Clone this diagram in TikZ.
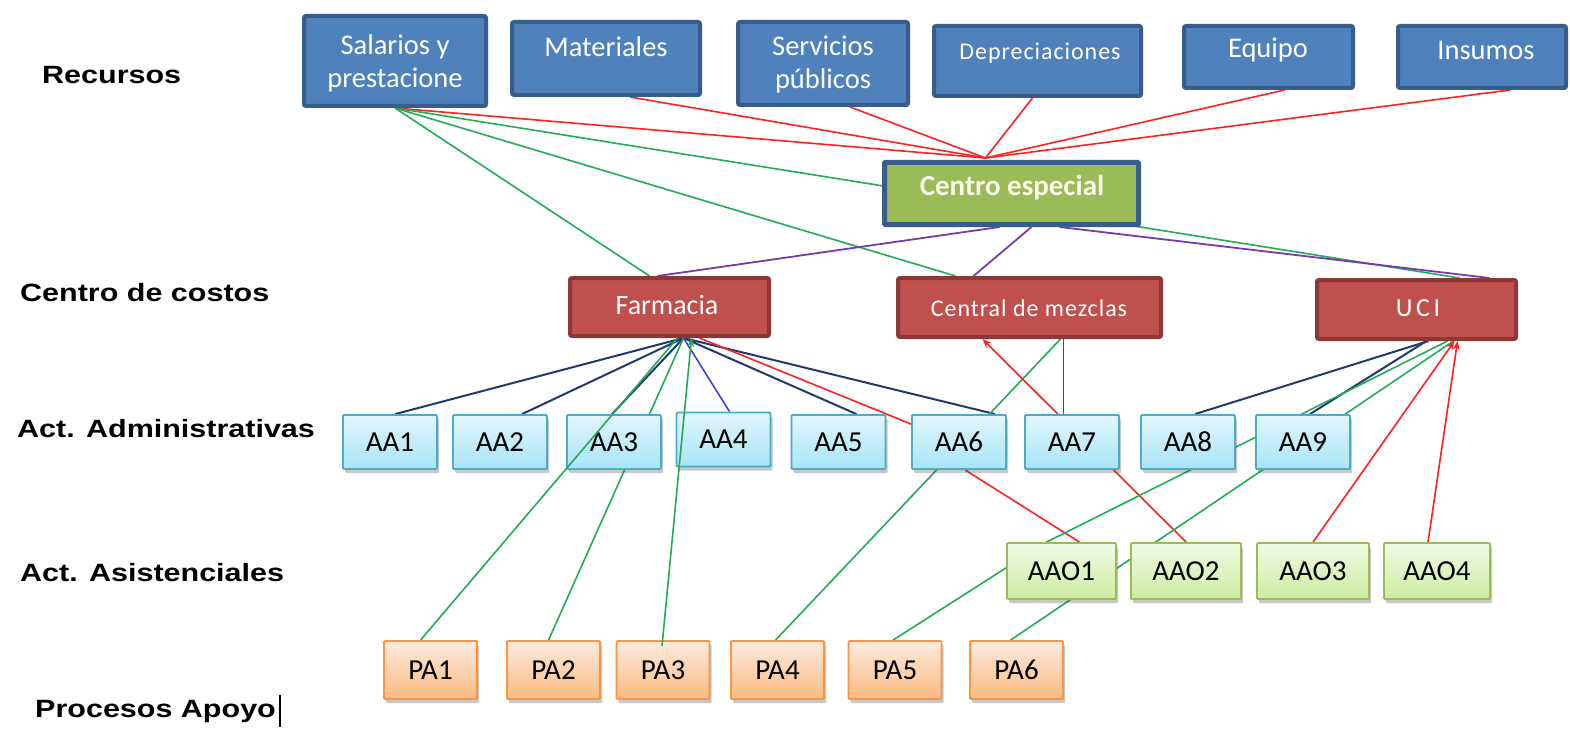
\documentclass[tikz,border=0pt]{standalone}
\usepackage{fontspec}
\setmainfont{Carlito}
\newfontfamily\lblfont{Liberation Sans}[FakeStretch=1.22]
\newfontfamily\spfont{Carlito}[LetterSpace=4]
\newfontfamily\wspfont{Carlito}[LetterSpace=14]
\usetikzlibrary{arrows.meta,shadows,calc}
\pgfdeclarelayer{bgfill}
\pgfdeclarelayer{bg}
\pgfdeclarelayer{fg}
\pgfsetlayers{bgfill,bg,main,fg}
\definecolor{resfill}{HTML}{4F81BD}
\definecolor{resdraw}{HTML}{385D8A}
\definecolor{cefill}{HTML}{9BBB59}
\definecolor{cetext}{HTML}{FAFAE8}
\definecolor{costfill}{HTML}{C0504D}
\definecolor{costdraw}{HTML}{8C3836}
\definecolor{aatop}{HTML}{E2F6FC}
\definecolor{aabot}{HTML}{A8E4F8}
\definecolor{aadraw}{HTML}{4BACC6}
\definecolor{aaotop}{HTML}{F2FAE6}
\definecolor{aaobot}{HTML}{CDEBA0}
\definecolor{aaodraw}{HTML}{9BBB59}
\definecolor{patop}{HTML}{FDEBDD}
\definecolor{pabot}{HTML}{FAB982}
\definecolor{padraw}{HTML}{F79646}
\definecolor{lnred}{HTML}{FF2020}
\definecolor{lngreen}{HTML}{22AD55}
\definecolor{lnnavy}{HTML}{223A6C}
\definecolor{lnblue}{HTML}{3A3ADD}
\definecolor{lnpurple}{HTML}{7A3AAE}
\tikzset{
  resbox/.style={draw=resdraw, fill=resfill, line width=4pt, rounded corners=2pt, inner sep=0pt},
  restext/.style={text=white, font=\fontsize{28.5}{33}\selectfont, align=center, inner sep=0pt},
  cebox/.style={draw=resdraw, fill=cefill, line width=5pt, rounded corners=1pt, inner sep=0pt},
  costbox/.style={draw=costdraw, fill=costfill, line width=4pt, rounded corners=2pt, inner sep=0pt},
  costtext/.style={text=white, inner sep=0pt},
  smallbox/.style={line width=1.8pt, rounded corners=1pt, inner sep=0pt,
    font=\fontsize{29}{33}\selectfont,
    drop shadow={shadow xshift=2pt, shadow yshift=-4pt, opacity=0.3, fill=black!70}},
  aabox/.style={smallbox, draw=aadraw, top color=aatop, bottom color=aabot, minimum width=94pt, minimum height=54pt},
  aaobox/.style={smallbox, draw=aaodraw, top color=aaotop, bottom color=aaobot, minimum height=56pt},
  pabox/.style={smallbox, draw=padraw, top color=patop, bottom color=pabot, minimum width=93pt, minimum height=58pt},
  lbl/.style={anchor=west, inner sep=0pt, font=\lblfont\bfseries\fontsize{25}{30}\selectfont},
  lred/.style={draw=lnred, line width=1.6pt},
  lgreen/.style={draw=lngreen, line width=1.6pt},
  lnavy/.style={draw=lnnavy, line width=2pt},
  lblue/.style={draw=lnblue, line width=1.5pt},
  lpurp/.style={draw=lnpurple, line width=1.8pt},
  tip/.style={-{Stealth[length=9pt,width=7pt]}}
}
\begin{document}
\begin{tikzpicture}[x=1pt,y=-1pt]
\begin{pgfonlayer}{bgfill}
\fill[white] (0,0) rectangle (1570,730);
\end{pgfonlayer}
\useasboundingbox (0,0) rectangle (1570,730);

% left labels
\node[lbl] (lrec) at (42,75) {Recursos};
\node[lbl] (lcc) at (20,293) {Centro de costos};
\node[lbl] (lad) at (17,429) {Act. Administrativas};
\node[lbl] (las) at (20,573) {Act. Asistenciales};
\node[lbl] (lpa) at (35,711) {Procesos Apoyo};
\draw[line width=2pt] ([xshift=4pt,yshift=16pt]lpa.east) -- ([xshift=4pt,yshift=-16pt]lpa.east);

% resources
\node[resbox, minimum width=182pt, minimum height=90pt] (sal) at (395,61) {};
\node[restext] (tsal) at (395,63.5) {Salarios y\\prestacione};
\node[resbox, minimum width=188pt, minimum height=73pt] (mat) at (606,58.5) {};
\node[restext] (tmat) at (606,47) {Materiales};
\node[resbox, minimum width=170pt, minimum height=83pt] (ser) at (823,63.5) {};
\node[restext] (tser) at (823,64.5) {Servicios\\públicos};
\node[resbox, minimum width=207pt, minimum height=70pt] (dep) at (1037.5,61) {};
\node[restext, font=\spfont\fontsize{24}{28}\selectfont] (tdep) at (1040,53) {Depreciaciones};
\node[resbox, minimum width=169pt, minimum height=62pt] (equ) at (1268.5,57) {};
\node[restext] (tequ) at (1268,50) {Equipo};
\node[resbox, minimum width=168pt, minimum height=62pt] (ins) at (1482,57) {};
\node[restext] (tins) at (1486,50) {Insumos};

% centro especial
\node[cebox, minimum width=254pt, minimum height=62pt] (ce) at (1011.5,193.5) {};
\node[costtext, text=cetext, font=\bfseries\fontsize{29}{33}\selectfont] (tce) at (1012,188) {Centro especial};

% cost centres
\node[costbox, minimum width=199pt, minimum height=58pt] (far) at (669.5,307) {};
\node[costtext, font=\fontsize{28}{33}\selectfont] (tfar) at (667,305) {Farmacia};
\node[costbox, minimum width=263pt, minimum height=59pt] (cdm) at (1029.5,307.5) {};
\node[costtext, font=\spfont\fontsize{24}{28}\selectfont] (tcdm) at (1029,308) {Central de mezclas};
\node[costbox, minimum width=199pt, minimum height=59pt] (uci) at (1416.5,309.5) {};
\node[costtext, font=\wspfont\fontsize{26}{30}\selectfont] (tuci) at (1418,308) {UCI};

% AA
\node[aabox] (aa1) at (390,442) {AA1};
\node[aabox] (aa2) at (500,442) {AA2};
\node[aabox] (aa3) at (614,442) {AA3};
\node[aabox] (aa4) at (723.5,439.5) {AA4};
\node[aabox] (aa5) at (838.5,442) {AA5};
\node[aabox] (aa6) at (959,442) {AA6};
\node[aabox] (aa7) at (1072,442) {AA7};
\node[aabox] (aa8) at (1188,442) {AA8};
\node[aabox] (aa9) at (1303,442) {AA9};

% AAO
\node[aaobox, minimum width=109pt] (aao1) at (1061.5,571) {AAO1};
\node[aaobox, minimum width=110pt] (aao2) at (1186,571) {AAO2};
\node[aaobox, minimum width=112pt] (aao3) at (1313,571) {AAO3};
\node[aaobox, minimum width=106pt] (aao4) at (1437,571) {AAO4};

% PA
\node[pabox] (pa1) at (430.5,670) {PA1};
\node[pabox] (pa2) at (553.5,670) {PA2};
\node[pabox] (pa3) at (663,670) {PA3};
\node[pabox] (pa4) at (777.5,670) {PA4};
\node[pabox] (pa5) at (895,670) {PA5};
\node[pabox] (pa6) at (1016.5,670) {PA6};

\begin{pgfonlayer}{bg}
% resources to centro especial
\coordinate (cehub) at ([xshift=-26pt,yshift=2pt]ce.north);
\draw[lred] (sal.south) -- (cehub);
\draw[lred] ([xshift=24pt]mat.south) -- (cehub);
\draw[lred] ([xshift=27pt]ser.south) -- (cehub);
\draw[lred] ([xshift=-5pt]dep.south) -- (cehub);
\draw[lred] ([xshift=16pt]equ.south) -- (cehub);
\draw[lred] ([xshift=28pt]ins.south) -- (cehub);
% salarios greens
\draw[lgreen] (sal.south) -- ([xshift=43pt]uci.north);
\draw[lgreen] (sal.south) -- ([xshift=-74pt]cdm.north);
\draw[lgreen] (sal.south) -- ([xshift=-20pt]far.north);
% centro especial purples
\draw[lpurp] ([xshift=-12pt]ce.south) -- ([xshift=-12pt]far.north);
\draw[lpurp] ([xshift=20pt]ce.south) -- ([xshift=-56pt]cdm.north);
\draw[lpurp] ([xshift=48pt]ce.south) -- ([xshift=73pt]uci.north);
% farmacia
\coordinate (fhub) at ([xshift=14pt]far.south);
\draw[lnavy] (fhub) -- ([xshift=5pt]aa1.north);
\draw[lnavy] (fhub) -- ([xshift=22pt]aa2.north);
\draw[lnavy] (fhub) -- ([xshift=-2pt]aa3.north);
\draw[lnavy] (fhub) -- ([xshift=18pt]aa5.north);
\draw[lnavy] (fhub) -- ([xshift=36pt]aa6.north);
\draw[lblue] (fhub) -- ([xshift=6pt]aa4.north);
\draw[lred] ([xshift=30pt]far.south) -- ([yshift=-10pt]aa6.north west);
\draw[lgreen] ([xshift=-5pt]pa2.north) -- ([xshift=14pt]far.south);
% central de mezclas
\draw[lgreen] ([xshift=-2pt]pa4.north) -- ([xshift=31pt]cdm.south);
\draw[lblue] ([xshift=34pt]cdm.south) -- ([xshift=-8.5pt]aa7.north);
\draw[lred, tip] (aao2.north) -- ([xshift=-47pt]cdm.south);
\draw[lred] ([xshift=6pt]aa6.south) -- ([xshift=18pt]aao1.north);
% UCI
\draw[lnavy] ([xshift=12pt]uci.south) -- ([xshift=7pt]aa8.north);
\draw[lnavy] ([xshift=10pt]uci.south) -- ([xshift=7pt]aa9.north);
\draw[lgreen] ([xshift=-2pt]pa5.north) -- ([xshift=-15pt]aao1.north) -- ([xshift=31pt]uci.south);
\draw[lgreen] ([xshift=-6pt]pa6.north) -- ([xshift=37pt]uci.south);
\draw[lred, tip] (aao3.north) -- ([xshift=38pt]uci.south);
\draw[lred, tip] ([xshift=-9pt]aao4.north) -- ([xshift=41pt]uci.south);
\end{pgfonlayer}

\begin{pgfonlayer}{fg}
\draw[lgreen] ([xshift=-10pt]pa1.north) -- ([xshift=8pt]far.south);
\draw[lgreen, tip] ([xshift=-1pt,yshift=-6pt]pa3.north) -- ([xshift=22pt]far.south);
\end{pgfonlayer}
\end{tikzpicture}
\end{document}
